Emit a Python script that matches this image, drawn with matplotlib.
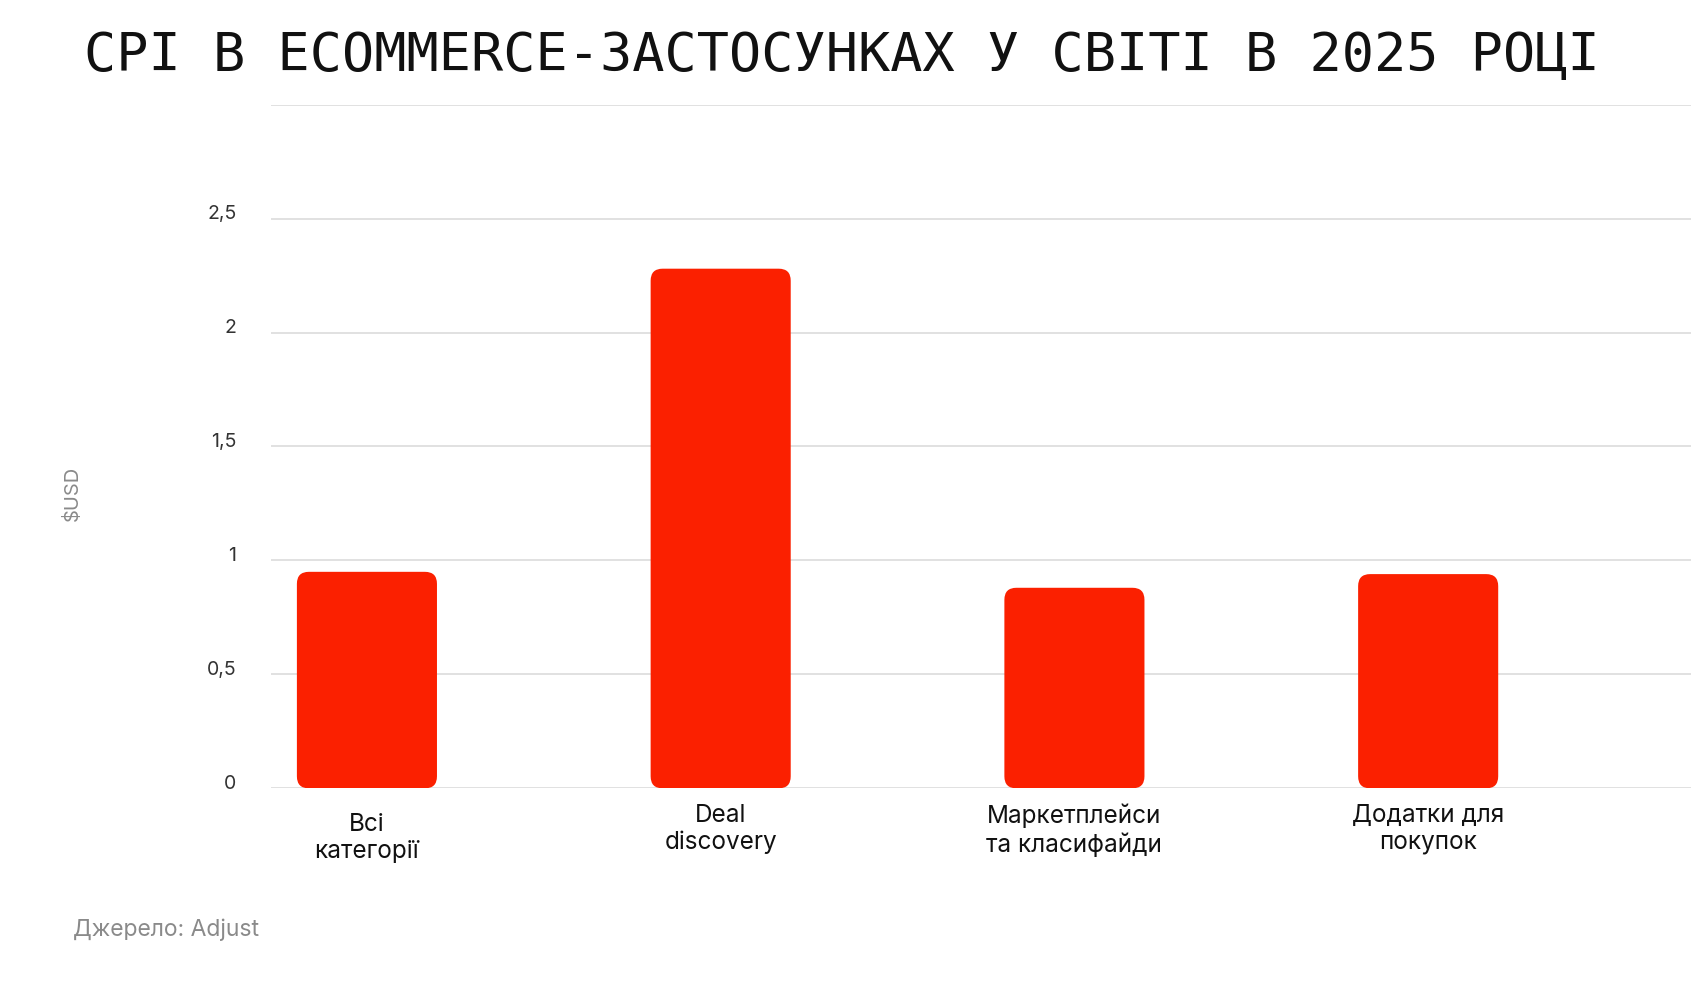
import matplotlib
matplotlib.use("Agg")
import matplotlib.pyplot as plt
from matplotlib.patches import FancyBboxPatch
from matplotlib.transforms import ScaledTranslation

categories = ["Всі\nкатегорії", "Deal\ndiscovery", "Маркетплейси\nта класифайди", "Додатки для\nпокупок"]
cpi_usd = [0.95, 2.28, 0.88, 0.94]
y_ticks = [0, 0.5, 1, 1.5, 2, 2.5, 3]
y_tick_labels = ["0", "0,5", "1", "1,5", "2", "2,5", ""]

title = "CPI В ECOMMERCE-ЗАСТОСУНКАХ У СВІТІ В 2025 РОЦІ"
source = "Джерело: Adjust"

plt.rcParams['font.family'] = ['Inter', 'DejaVu Sans']

red = '#fb2000'
grid_col = '#dedede'

fig = plt.figure(figsize=(16.91, 9.82), dpi=100)
ax = fig.add_axes([0.1603, 0.1972, 0.8397, 0.6963])

x = list(range(len(categories)))
ax.set_xlim(-0.271, 3.743)
ax.set_ylim(0, 3)

# rounded bars, radius given in pixels
bar_w = 0.396
rad_px = 12
p0 = ax.transData.transform((0, 0))
p1 = ax.transData.transform((1, 1))
px_x = p1[0] - p0[0]
px_y = p1[1] - p0[1]
for xi, v in zip(x, cpi_usd):
    patch = FancyBboxPatch((xi - bar_w / 2, 0), bar_w, v,
                           boxstyle=f"round,pad=0,rounding_size={rad_px / px_x}",
                           mutation_aspect=px_x / px_y,
                           facecolor=red, edgecolor='none', zorder=3)
    ax.add_patch(patch)

ax.set_yticks(y_ticks)
ax.set_yticklabels(y_tick_labels)
ax.grid(axis='y', color=grid_col, linewidth=1.3, zorder=0)
ax.set_axisbelow(True)
for s in ax.spines.values():
    s.set_visible(False)
ax.tick_params(axis='y', length=0, pad=25, labelsize=14, labelcolor='#333333')
ax.tick_params(axis='x', length=0, pad=11, labelsize=17.5, labelcolor='#111111')
for lab in ax.get_yticklabels():
    lab.set_transform(lab.get_transform() + ScaledTranslation(0, 4.5 / 72, fig.dpi_scale_trans))

ax.set_xticks(x)
ax.set_xticklabels(categories, linespacing=1.22)
# first label sits a little lower in the original
first = ax.get_xticklabels()[0]
first.set_transform(first.get_transform() + ScaledTranslation(0, -7 / 72, fig.dpi_scale_trans))

fig.text(0.0426, 0.498, "$USD", rotation=90, ha='center', va='center',
         fontsize=14.5, color='#8a8a8a')
fig.text(0.0432, 0.053, source, ha='left', va='center', fontsize=16.5, color='#8a8a8a')
fig.text(0.0497, 0.943, title, ha='left', va='center', fontsize=38.5,
         color='#111111', family=['DejaVu Sans Mono'])

fig.savefig("out.png", dpi=100, facecolor='white')
